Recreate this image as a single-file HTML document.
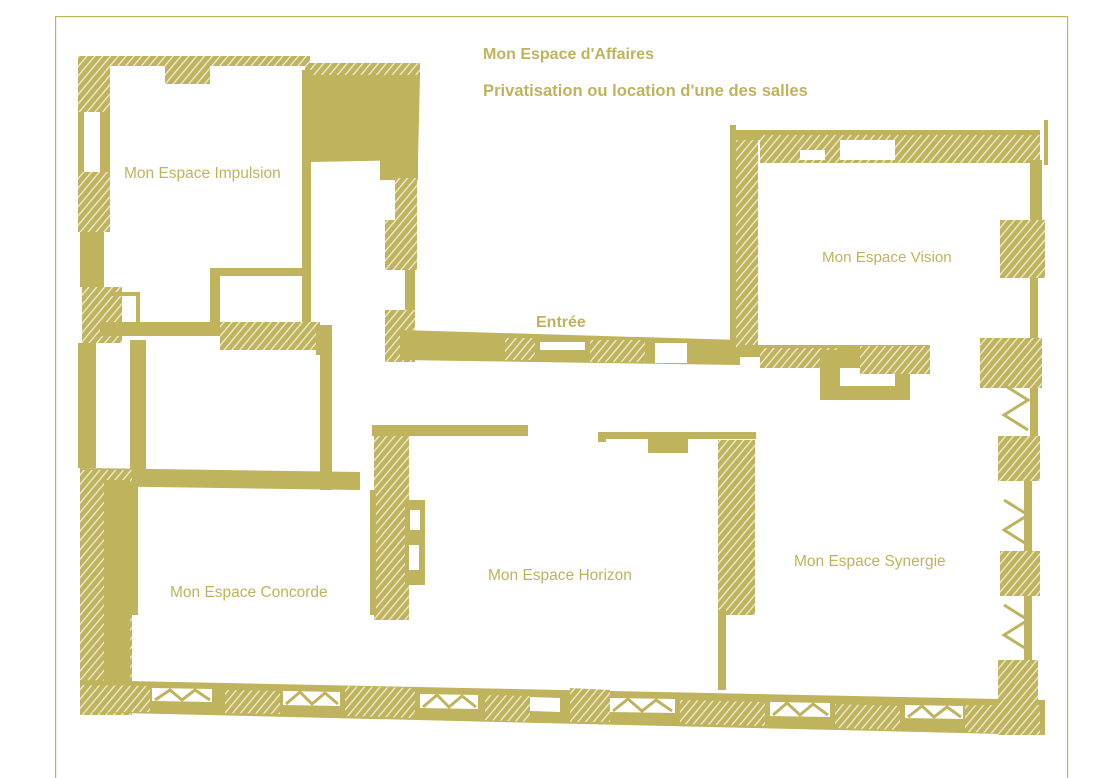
<!DOCTYPE html>
<html><head><meta charset="utf-8"><style>
html,body{margin:0;padding:0;background:#fff;}
svg{display:block;}
text{font-family:"Liberation Sans",sans-serif;fill:#bfb35e;}
</style></head><body>
<svg width="1100" height="778" viewBox="0 0 1100 778" xmlns="http://www.w3.org/2000/svg">
<defs>
<pattern id="h" width="6" height="6" patternUnits="userSpaceOnUse" patternTransform="rotate(40)">
<rect width="6" height="6" fill="#bfb35e"/><rect x="0" y="0" width="1.3" height="6" fill="#fff" opacity="0.75"/>
</pattern>
</defs>
<g fill="#bfb35e" stroke="none">
<rect x="55" y="16" width="1013" height="1.2"/>
<rect x="55" y="16" width="1.2" height="762"/>
<rect x="1067" y="16" width="1.2" height="762"/>

<rect x="78" y="56" width="32" height="56" fill="url(#h)"/>
<rect x="110" y="56" width="200" height="10" fill="url(#h)"/>
<rect x="165" y="62" width="45" height="22" fill="url(#h)"/>
<rect x="305" y="63" width="115" height="15" fill="url(#h)"/>
<polygon points="310,75 420,75 418,160 310,162"/>
<rect x="302" y="70" width="9" height="256"/>
<rect x="78" y="112" width="6" height="60"/>
<rect x="100" y="112" width="10" height="60"/>
<rect x="78" y="172" width="32" height="60" fill="url(#h)"/>
<rect x="80" y="232" width="18" height="55"/>
<rect x="98" y="232" width="6" height="60"/>
<rect x="82" y="287" width="40" height="56" fill="url(#h)"/>
<rect x="112" y="292" width="28" height="4"/>
<rect x="136" y="292" width="4" height="30"/>
<rect x="210" y="268" width="95" height="8"/>
<rect x="210" y="268" width="10" height="60"/>
<rect x="100" y="322" width="120" height="14"/>
<rect x="220" y="322" width="100" height="28" fill="url(#h)"/>
<rect x="316" y="325" width="16" height="30"/>
<rect x="380" y="160" width="38" height="20"/>
<rect x="395" y="178" width="22" height="45" fill="url(#h)"/>
<rect x="385" y="220" width="32" height="50" fill="url(#h)"/>
<rect x="405" y="270" width="10" height="40"/>
<rect x="385" y="310" width="30" height="52" fill="url(#h)"/>
<polygon points="400,330 740,340 740,365 400,360"/>
<rect x="505" y="338" width="30" height="22" fill="url(#h)"/>
<rect x="590" y="340" width="55" height="22" fill="url(#h)"/>
<rect x="655" y="343" width="32" height="20" fill="#fff"/>
<rect x="540" y="342" width="45" height="8" fill="#fff"/>
<rect x="78" y="343" width="18" height="125"/>
<rect x="130" y="340" width="16" height="140"/>
<rect x="320" y="345" width="12" height="145"/>
<polygon points="80,468 360,472 360,490 80,486"/>
<rect x="80" y="470" width="52" height="245" fill="url(#h)"/>
<rect x="104" y="480" width="26" height="205"/>
<rect x="130" y="485" width="8" height="130"/>
<rect x="374" y="425" width="35" height="195" fill="url(#h)"/>
<rect x="370" y="490" width="6" height="125"/>
<rect x="405" y="500" width="20" height="85"/>
<rect x="410" y="510" width="10" height="20" fill="#fff"/>
<rect x="409" y="545" width="10" height="25" fill="#fff"/>
<rect x="372" y="425" width="156" height="11"/>
<rect x="598" y="432" width="8" height="10"/>
<rect x="606" y="432" width="150" height="7"/>
<rect x="648" y="438" width="40" height="15"/>
<rect x="718" y="440" width="37" height="175" fill="url(#h)"/>
<rect x="718" y="610" width="8" height="80"/>
<polygon points="80,680 1045,700 1045,735 80,712"/>
<g fill="#fff">
<polygon points="152,688 212,689 212,702 152,701"/>
<polygon points="283,691 340,692 340,706 283,705"/>
<polygon points="420,694 478,695 478,709 420,708"/>
<polygon points="530,697 560,698 560,712 530,711"/>
<polygon points="610,698 675,699 675,713 610,712"/>
<polygon points="770,702 830,703 830,717 770,716"/>
<polygon points="905,705 963,706 963,719 905,718"/>
</g>
<g fill="url(#h)">
<polygon points="80,685 150,686 150,712 80,712"/>
<polygon points="225,690 280,691 280,714 225,713"/>
<polygon points="345,686 415,688 415,718 345,716"/>
<polygon points="485,695 530,696 530,722 485,720"/>
<polygon points="570,688 610,690 610,722 570,722"/>
<polygon points="680,700 765,702 765,726 680,724"/>
<polygon points="835,704 900,706 900,730 835,728"/>
<polygon points="965,705 1040,705 1040,735 965,732"/>
</g>
<g stroke="#bfb35e" stroke-width="3" fill="none">
<path d="M155,700 L170,690 L182,700 L195,690 L210,700"/>
<path d="M286,704 L300,692 L312,704 L325,693 L338,704"/>
<path d="M423,707 L437,695 L449,707 L462,696 L476,707"/>
<path d="M613,711 L628,699 L642,711 L656,700 L672,711"/>
<path d="M773,715 L787,703 L800,715 L813,704 L828,715"/>
<path d="M908,717 L922,706 L934,717 L947,707 L961,717"/>
</g>
<rect x="730" y="125" width="6" height="220"/>
<rect x="736" y="140" width="22" height="210" fill="url(#h)"/>
<rect x="730" y="130" width="310" height="10"/>
<rect x="760" y="135" width="280" height="28" fill="url(#h)"/>
<rect x="800" y="150" width="25" height="10" fill="#fff"/>
<rect x="840" y="140" width="55" height="20" fill="#fff"/>
<rect x="1044" y="120" width="4" height="45"/>
<rect x="1030" y="160" width="12" height="60"/>
<rect x="1000" y="220" width="45" height="58" fill="url(#h)"/>
<rect x="1030" y="278" width="8" height="60"/>
<rect x="980" y="338" width="62" height="50" fill="url(#h)"/>
<rect x="1030" y="388" width="8" height="48"/>
<rect x="998" y="436" width="42" height="45" fill="url(#h)"/>
<rect x="1024" y="481" width="8" height="70"/>
<rect x="1000" y="551" width="40" height="45" fill="url(#h)"/>
<rect x="1024" y="596" width="8" height="64"/>
<rect x="998" y="660" width="40" height="75" fill="url(#h)"/>
<path d="M1004,385 L1028,400 L1004,415 L1028,430 M1004,500 L1028,515 L1004,530 L1028,545 M1004,605 L1028,620 L1004,635 L1028,650" stroke="#bfb35e" stroke-width="3" fill="none"/>
<rect x="740" y="345" width="190" height="12"/>
<rect x="760" y="348" width="80" height="20" fill="url(#h)"/>
<rect x="820" y="350" width="90" height="50"/>
<rect x="840" y="368" width="55" height="18" fill="#fff"/>
<rect x="860" y="346" width="70" height="28" fill="url(#h)"/>
</g>
<text x="483" y="59" font-size="16" font-weight="bold">Mon Espace d'Affaires</text>
<text x="483" y="96" font-size="16.6" font-weight="bold">Privatisation ou location d'une des salles</text>
<text x="536" y="327" font-size="16" font-weight="bold">Entrée</text>
<text x="124" y="178" font-size="15.5">Mon Espace Impulsion</text>
<text x="822" y="262" font-size="15.2">Mon Espace Vision</text>
<text x="170" y="597" font-size="15.5">Mon Espace Concorde</text>
<text x="488" y="580" font-size="15.5">Mon Espace Horizon</text>
<text x="794" y="566" font-size="15.5">Mon Espace Synergie</text>
</svg>
</body></html>
